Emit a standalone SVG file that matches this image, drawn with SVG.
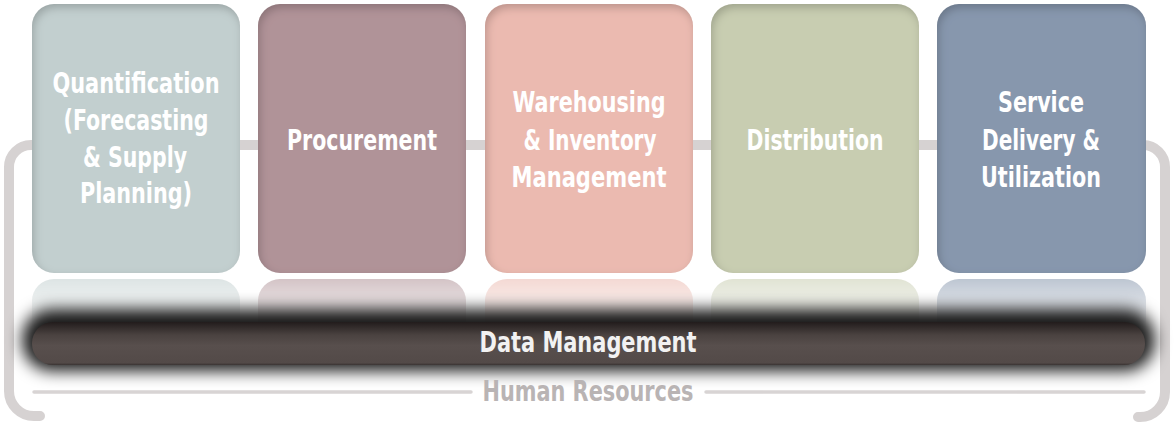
<svg xmlns="http://www.w3.org/2000/svg" width="1175" height="424" viewBox="0 0 1175 424">
<style>
.frame{fill:none;stroke:#d6d2d2;stroke-width:10;stroke-linecap:round}
.thin{fill:none;stroke:#d8d4d4;stroke-width:3.5;stroke-linecap:round}
.lbl{font-family:"Liberation Sans Narrow","DejaVu Sans Condensed","Liberation Sans",sans-serif;font-weight:bold;font-size:28px;fill:#ffffff;text-anchor:middle}
.box{filter:url(#inset)}
</style>
<defs>
<filter id="inset" x="-5%" y="-5%" width="110%" height="110%">
<feFlood flood-color="#000" flood-opacity="0.4"/>
<feComposite in2="SourceAlpha" operator="out"/>
<feGaussianBlur stdDeviation="4"/>
<feOffset dx="2" dy="4"/>
<feComposite in2="SourceAlpha" operator="in" result="sh"/>
<feMerge><feMergeNode in="SourceGraphic"/><feMergeNode in="sh"/></feMerge>
</filter>
<filter id="glow" x="-10%" y="-100%" width="120%" height="300%">
<feGaussianBlur stdDeviation="8"/>
</filter>
<linearGradient id="bar" x1="0" y1="0" x2="0" y2="1">
<stop offset="0" stop-color="#221c1c"/>
<stop offset="0.3" stop-color="#4a4240"/>
<stop offset="0.55" stop-color="#584f4d"/>
<stop offset="0.95" stop-color="#534a48"/>
<stop offset="1" stop-color="#3a3332"/>
</linearGradient>
<linearGradient id="refl" x1="0" y1="0" x2="0" y2="1">
<stop offset="0" stop-color="#fff" stop-opacity="0.55"/>
<stop offset="1" stop-color="#fff" stop-opacity="0"/>
</linearGradient>
<mask id="rmask" maskUnits="userSpaceOnUse" x="0" y="270" width="1175" height="80">
<rect x="0" y="279" width="1175" height="50" fill="url(#refl)"/>
</mask>
</defs>

<g id="frame">
<path class="frame" d="M40 145 H31 A22 22 0 0 0 9 167 V391 A25 25 0 0 0 34 416 H40"/>
<path class="frame" d="M40 145 H1143 A22 22 0 0 1 1165 167 V392 A25 25 0 0 1 1140 417 H1138"/>
<line class="thin" x1="34" y1="392" x2="471" y2="392"/>
<line class="thin" x1="706" y1="392" x2="1144" y2="392"/>
</g>

<g id="reflections" mask="url(#rmask)">
<rect x="32" y="279" width="208" height="120" rx="22" fill="#c2cfcf"/>
<rect x="258" y="279" width="208" height="120" rx="22" fill="#b09398"/>
<rect x="485" y="279" width="208" height="120" rx="22" fill="#ebbab0"/>
<rect x="711" y="279" width="208" height="120" rx="22" fill="#c8cdb1"/>
<rect x="937" y="279" width="209" height="120" rx="22" fill="#8797ad"/>
</g>

<g id="n1">
<rect class="box" x="32" y="4" width="208" height="269" rx="22" fill="#c2cfcf"/>
<text class="lbl" x="136" y="93" textLength="167" lengthAdjust="spacingAndGlyphs">Quantification</text>
<text class="lbl" x="136" y="130" textLength="145" lengthAdjust="spacingAndGlyphs">(Forecasting</text>
<text class="lbl" x="135" y="167" textLength="104" lengthAdjust="spacingAndGlyphs">&amp; Supply</text>
<text class="lbl" x="136" y="203" textLength="112" lengthAdjust="spacingAndGlyphs">Planning)</text>
</g>
<g id="n2">
<rect class="box" x="258" y="4" width="208" height="269" rx="22" fill="#b09398"/>
<text class="lbl" x="362" y="150" textLength="150" lengthAdjust="spacingAndGlyphs">Procurement</text>
</g>
<g id="n3">
<rect class="box" x="485" y="4" width="208" height="269" rx="22" fill="#ebbab0"/>
<text class="lbl" x="589" y="112" textLength="153" lengthAdjust="spacingAndGlyphs">Warehousing</text>
<text class="lbl" x="590" y="150" textLength="133" lengthAdjust="spacingAndGlyphs">&amp; Inventory</text>
<text class="lbl" x="589" y="187" textLength="155" lengthAdjust="spacingAndGlyphs">Management</text>
</g>
<g id="n4">
<rect class="box" x="711" y="4" width="208" height="269" rx="22" fill="#c8cdb1"/>
<text class="lbl" x="815" y="150" textLength="137" lengthAdjust="spacingAndGlyphs">Distribution</text>
</g>
<g id="n5">
<rect class="box" x="937" y="4" width="209" height="269" rx="22" fill="#8797ad"/>
<text class="lbl" x="1041" y="112" textLength="86" lengthAdjust="spacingAndGlyphs">Service</text>
<text class="lbl" x="1041" y="150" textLength="118" lengthAdjust="spacingAndGlyphs">Delivery &amp;</text>
<text class="lbl" x="1041" y="187" textLength="120" lengthAdjust="spacingAndGlyphs">Utilization</text>
</g>

<g id="data-management">
<rect x="22" y="309" width="1133" height="62" rx="30" fill="#000" fill-opacity="0.9" filter="url(#glow)"/>
<rect x="32" y="322" width="1113" height="43" rx="21" fill="url(#bar)"/>
<text class="lbl" x="588" y="352" style="fill:#f2f2f2" textLength="217" lengthAdjust="spacingAndGlyphs">Data Management</text>
</g>

<g id="human-resources">
<text class="lbl" x="588" y="401" style="fill:#b9b4b4" textLength="211" lengthAdjust="spacingAndGlyphs">Human Resources</text>
</g>
</svg>
